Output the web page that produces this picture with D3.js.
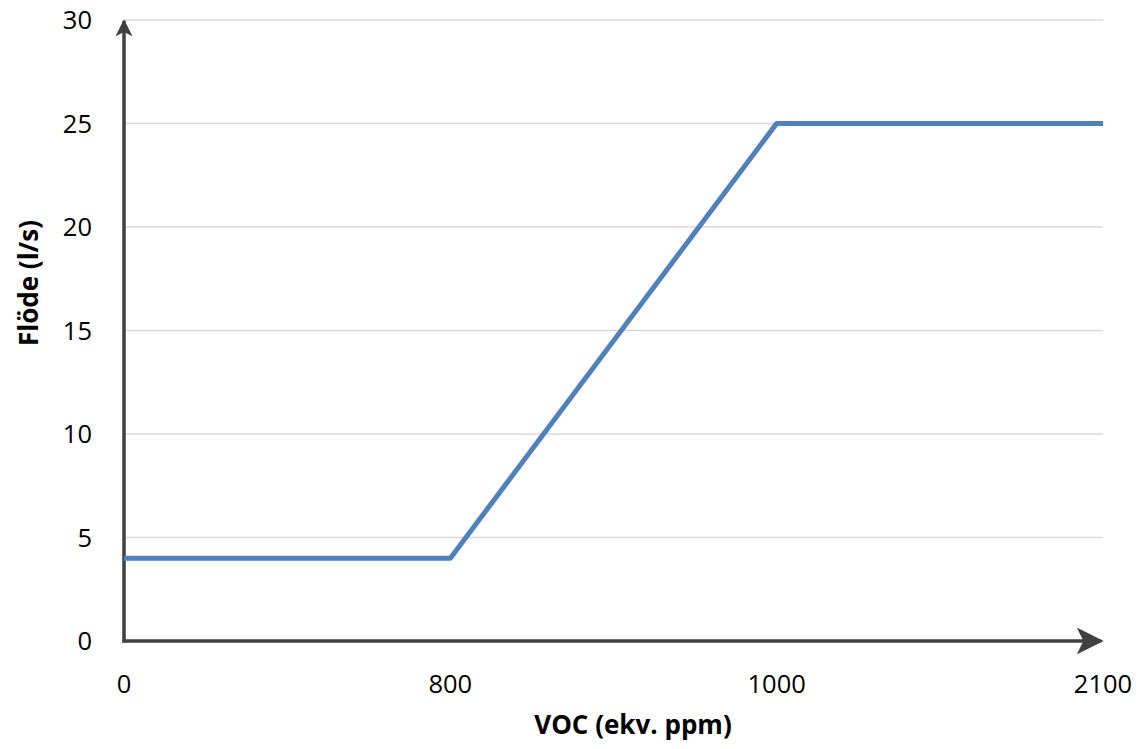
<!DOCTYPE html>
<html>
<head>
<meta charset="utf-8">
<script src="https://cdn.jsdelivr.net/npm/d3@7"></script>
<style>
  body { margin: 0; background: #fff; }
  text { font-family: "Open Sans", "Liberation Sans", sans-serif; fill: #000; }
</style>
</head>
<body>
<script>
const categories = ["0", "800", "1000", "2100"];
const flowValues = [4, 4, 25, 25];
const yTicks = [0, 5, 10, 15, 20, 25, 30];

function render() {
  const w = 1141, h = 749;
  const left = 124, right = 1103, top = 20, bottom = 641;

  const svg = d3.select("body").append("svg")
    .attr("width", w)
    .attr("height", h);

  const x = d3.scalePoint().domain(categories).range([left, right]);
  const y = d3.scaleLinear().domain([0, 30]).range([bottom, top]);

  // grid
  svg.append("g")
    .selectAll("line")
    .data(yTicks.filter(d => d > 0))
    .enter().append("line")
    .attr("x1", left).attr("x2", right)
    .attr("y1", d => y(d)).attr("y2", d => y(d))
    .attr("stroke", "#d9d9d9")
    .attr("stroke-width", 1.5);

  // y tick labels
  svg.append("g")
    .selectAll("text")
    .data(yTicks)
    .enter().append("text")
    .attr("x", 92)
    .attr("y", d => y(d))
    .attr("dy", "0.36em")
    .attr("text-anchor", "end")
    .style("font-size", "25.5px")
    .text(d => d);

  // x tick labels
  svg.append("g")
    .selectAll("text")
    .data(categories)
    .enter().append("text")
    .attr("x", d => x(d))
    .attr("y", 693)
    .attr("text-anchor", "middle")
    .style("font-size", "25.5px")
    .text(d => d);

  // arrowheads
  const defs = svg.append("defs");
  const marker = (id, size) => defs.append("marker")
    .attr("id", id)
    .attr("viewBox", "0 0 10 10")
    .attr("refX", 9).attr("refY", 5)
    .attr("markerWidth", size).attr("markerHeight", size)
    .attr("markerUnits", "userSpaceOnUse")
    .attr("orient", "auto")
    .append("path")
    .attr("d", "M0,0 L10,5 L0,10 L2.5,5 Z")
    .attr("fill", "#404040");
  marker("arrowY", 17);
  marker("arrowX", 27);

  // axes
  svg.append("line")
    .attr("x1", left).attr("y1", bottom + 1.5)
    .attr("x2", left).attr("y2", top + 1)
    .attr("stroke", "#404040").attr("stroke-width", 3.5)
    .attr("marker-end", "url(#arrowY)");
  svg.append("line")
    .attr("x1", left - 1.5).attr("y1", bottom)
    .attr("x2", 1101).attr("y2", bottom)
    .attr("stroke", "#404040").attr("stroke-width", 3.5)
    .attr("marker-end", "url(#arrowX)");

  // series
  const line = d3.line()
    .x((d, i) => x(categories[i]))
    .y(d => y(d));
  svg.append("path")
    .datum(flowValues)
    .attr("d", line)
    .attr("fill", "none")
    .attr("stroke", "#4f81bd")
    .attr("stroke-width", 5)
    .attr("stroke-linejoin", "round");

  // titles
  svg.append("text")
    .attr("x", 633).attr("y", 734)
    .attr("text-anchor", "middle")
    .style("font-size", "26px")
    .style("font-weight", "bold")
    .text("VOC (ekv. ppm)");
  svg.append("text")
    .attr("transform", "translate(38,283) rotate(-90)")
    .attr("text-anchor", "middle")
    .style("font-size", "26px")
    .style("font-weight", "bold")
    .text("Flöde (l/s)");
}

render();
</script>
</body>
</html>
